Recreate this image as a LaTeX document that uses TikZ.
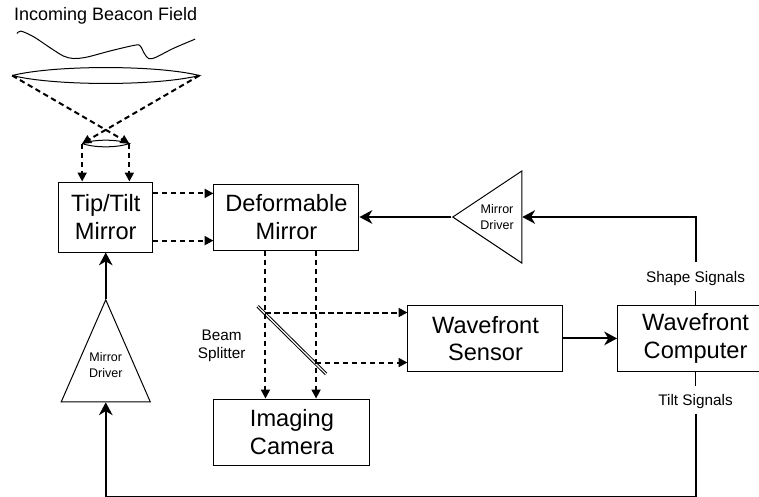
\documentclass[tikz,border=0pt]{standalone}
\usepackage{fontspec}
\setmainfont{Liberation Sans}
\usetikzlibrary{positioning,shapes.geometric,arrows.meta}

\tikzset{
    blockbox/.style={draw, line width=0.25mm, inner sep=0pt, align=center,
        font=\fontsize{16.8}{19.6}\selectfont},
    drivertri/.style={draw, line width=0.25mm, isosceles triangle, isosceles triangle stretches, inner sep=0pt},
    drivertext/.style={inner sep=0pt, align=center, font=\fontsize{8.9}{11.4}\selectfont},
    signaltext/.style={inner sep=0pt, align=center, font=\fontsize{10.9}{12.8}\selectfont},
    beam/.style={dashed, dash pattern=on 1.35mm off 0.9mm, line width=0.5mm,
        -{Triangle[length=2.2mm,width=2.2mm]}},
    drive/.style={line width=0.5mm, -{Stealth[length=3.2mm,width=3.4mm,inset=1mm]}},
    tap/.style={line width=0.25mm},
}

\begin{document}
\begin{tikzpicture}
    \useasboundingbox (-26.44mm,54.25mm) rectangle (163.31mm,-69.75mm);

    \node [blockbox, minimum width=23.4mm, minimum height=17.5mm] (tiptilt) {Tip/Tilt\\Mirror};
    \node [blockbox, right=15.1mm of tiptilt, minimum width=36.25mm, minimum height=16.5mm] (deformable) {Deformable\\Mirror};
    \node [blockbox, below right=13.6mm and 12mm of deformable, minimum width=38.75mm, minimum height=16.5mm] (sensor) {Wavefront\\Sensor};
    \node [blockbox, right=13.4mm of sensor, minimum width=39mm, minimum height=16.5mm] (computer) {Wavefront\\Computer};
    \node [blockbox, below right=37mm and 0mm of deformable.south west, minimum width=39mm, minimum height=16.5mm] (imaging) {Imaging\\Camera};

    \node [drivertri, shape border rotate=90, below=11.5mm of tiptilt, minimum width=22.25mm, minimum height=25.5mm] (leftdriver) {};
    \node [drivertri, shape border rotate=180, right=23mm of deformable, minimum width=23mm, minimum height=17.25mm] (rightdriver) {};
    \node [drivertext, below=16.7mm of leftdriver.apex, anchor=center] (lefttext) {Mirror\\Driver};
    \node [drivertext, left=6.3mm of rightdriver.lower side, anchor=center] (righttext) {Mirror\\Driver};

    \node [signaltext, above=3.5mm of computer, minimum height=7mm, text depth=0pt] (shapesignals) {Shape Signals};
    \node [signaltext, below=3.6mm of computer, minimum height=6.75mm, text depth=0pt] (tiltsignals) {Tilt Signals};

    \coordinate [below=7.75mm of imaging] (floor);
    \coordinate [below left=15.5mm and 5.25mm of deformable.south] (hita);
    \coordinate [below right=28mm and 7.4mm of deformable.south] (hitb);
    \coordinate [above left=9.5mm and 5.9mm of tiptilt.north] (smallleft);
    \coordinate [above right=9.5mm and 5.9mm of tiptilt.north] (smallright);
    \coordinate [above left=17mm and 17.5mm of smallleft] (bigleft);
    \coordinate [above right=17mm and 17.5mm of smallright] (bigright);
    \coordinate [above right=11.1mm and 1.2mm of bigleft] (wavestart);

    \node [signaltext, below left=4.3mm and 4.9mm of hita] (splitterlabel) {Beam\\Splitter};
    \node [above=39.3mm of tiptilt, inner sep=0pt, font=\fontsize{12.8}{15}\selectfont] (title) {Incoming Beacon Field};

    \draw [line width=0.25mm] plot [smooth, tension=0.5] coordinates {
        ([shift={(0mm,-0.6mm)}]wavestart) ([shift={(1mm,0mm)}]wavestart)
        ([shift={(4.15mm,-1.4mm)}]wavestart) ([shift={(8.35mm,-4.2mm)}]wavestart)
        ([shift={(11.65mm,-6.25mm)}]wavestart) ([shift={(14.15mm,-6.85mm)}]wavestart)
        ([shift={(17.5mm,-6.5mm)}]wavestart) ([shift={(23.35mm,-4.95mm)}]wavestart)
        ([shift={(29.6mm,-3.5mm)}]wavestart) ([shift={(30.85mm,-3.75mm)}]wavestart)
        ([shift={(31.85mm,-5.6mm)}]wavestart) ([shift={(32.9mm,-6.85mm)}]wavestart)
        ([shift={(34.6mm,-6.6mm)}]wavestart) ([shift={(39.15mm,-4.3mm)}]wavestart)
        ([shift={(44.55mm,-2mm)}]wavestart)};

    \draw [line width=0.25mm] (bigleft) to [bend left=14, looseness=0.6] (bigright) to [bend left=14, looseness=0.6] (bigleft);
    \draw [line width=0.25mm] (smallleft) to [bend left=20, looseness=0.7] (smallright) to [bend left=20, looseness=0.7] (smallleft);

    \draw [beam] (bigleft) -- (smallright);
    \draw [beam] (bigright) -- (smallleft);
    \draw [beam] (smallleft) -- (smallleft |- tiptilt.north);
    \draw [beam] (smallright) -- (smallright |- tiptilt.north);
    \draw [beam] ([yshift=5.9mm]tiptilt.east) -- ([yshift=5.9mm]deformable.west);
    \draw [beam] ([yshift=-5.9mm]tiptilt.east) -- ([yshift=-5.9mm]deformable.west);

    \draw [line width=0.25mm, double, double distance=0.3mm] ([shift={(-1.95mm,1.55mm)}]hita) -- ([shift={(2.5mm,-2.85mm)}]hitb);

    \draw [beam] (deformable.south -| hita) -- (hita |- imaging.north);
    \draw [beam] (deformable.south -| hitb) -- (hitb |- imaging.north);
    \draw [beam] (hita) -- (hita -| sensor.west);
    \draw [beam] (hitb) -- (hitb -| sensor.west);

    \draw [drive] (sensor) -- (computer);
    \draw [drive] (rightdriver.apex) -- (deformable);
    \draw [drive] (leftdriver.apex) -- (tiptilt);
    \draw [tap] (computer) -- (shapesignals);
    \draw [tap] (computer) -- (tiltsignals);
    \draw [drive] (shapesignals) |- (rightdriver);
    \draw [drive] (tiltsignals) |- (floor) -| (leftdriver);
\end{tikzpicture}
\end{document}
